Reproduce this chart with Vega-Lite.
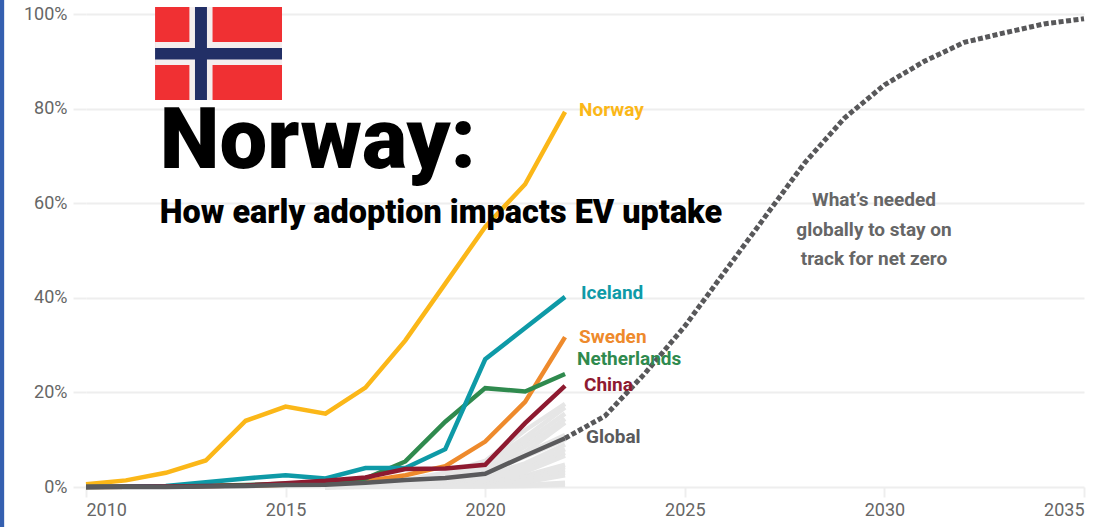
{
  "$schema": "https://vega.github.io/schema/vega-lite/v6.json",
  "width": 998,
  "height": 473,
  "autosize": "none",
  "padding": {"left": 86, "top": 14, "right": 23, "bottom": 40},
  "background": "white",
  "config": {
    "view": {"stroke": null},
    "axis": {
      "title": null,
      "domain": false,
      "grid": false,
      "tickColor": "#eeeeee",
      "tickWidth": 2,
      "labelColor": "#666666",
      "labelFont": "Roboto",
      "labelFontSize": 18
    }
  },
  "datasets": {
    "shares": [
      {"series":"r01","year":2016,"share":0.0},{"series":"r01","year":2018,"share":1.5},{"series":"r01","year":2019,"share":3.0},{"series":"r01","year":2020,"share":5.5},{"series":"r01","year":2021,"share":12.0},{"series":"r01","year":2022,"share":17.6},
      {"series":"r02","year":2016,"share":0.0},{"series":"r02","year":2018,"share":1.2},{"series":"r02","year":2019,"share":2.6},{"series":"r02","year":2020,"share":5.0},{"series":"r02","year":2021,"share":10.5},{"series":"r02","year":2022,"share":16.8},
      {"series":"r03","year":2016,"share":0.0},{"series":"r03","year":2018,"share":1.0},{"series":"r03","year":2019,"share":2.2},{"series":"r03","year":2020,"share":4.6},{"series":"r03","year":2021,"share":9.5},{"series":"r03","year":2022,"share":15.5},
      {"series":"r04","year":2016,"share":0.0},{"series":"r04","year":2018,"share":0.9},{"series":"r04","year":2019,"share":2.0},{"series":"r04","year":2020,"share":4.0},{"series":"r04","year":2021,"share":8.5},{"series":"r04","year":2022,"share":14.4},
      {"series":"r05","year":2016,"share":0.0},{"series":"r05","year":2018,"share":0.8},{"series":"r05","year":2019,"share":1.7},{"series":"r05","year":2020,"share":3.6},{"series":"r05","year":2021,"share":7.4},{"series":"r05","year":2022,"share":13.6},
      {"series":"r06","year":2016,"share":0.0},{"series":"r06","year":2018,"share":0.7},{"series":"r06","year":2019,"share":1.5},{"series":"r06","year":2020,"share":3.2},{"series":"r06","year":2021,"share":7.0},{"series":"r06","year":2022,"share":11.0},
      {"series":"r07","year":2016,"share":0.0},{"series":"r07","year":2018,"share":0.6},{"series":"r07","year":2019,"share":1.3},{"series":"r07","year":2020,"share":3.0},{"series":"r07","year":2021,"share":6.4},{"series":"r07","year":2022,"share":10.0},
      {"series":"r08","year":2016,"share":0.0},{"series":"r08","year":2018,"share":0.5},{"series":"r08","year":2019,"share":1.1},{"series":"r08","year":2020,"share":2.4},{"series":"r08","year":2021,"share":5.0},{"series":"r08","year":2022,"share":9.0},
      {"series":"r09","year":2016,"share":0.0},{"series":"r09","year":2018,"share":0.4},{"series":"r09","year":2019,"share":0.9},{"series":"r09","year":2020,"share":2.0},{"series":"r09","year":2021,"share":4.4},{"series":"r09","year":2022,"share":8.0},
      {"series":"r10","year":2016,"share":0.0},{"series":"r10","year":2018,"share":0.4},{"series":"r10","year":2019,"share":0.8},{"series":"r10","year":2020,"share":1.7},{"series":"r10","year":2021,"share":3.8},{"series":"r10","year":2022,"share":7.2},
      {"series":"r11","year":2016,"share":0.0},{"series":"r11","year":2018,"share":0.3},{"series":"r11","year":2019,"share":0.6},{"series":"r11","year":2020,"share":1.4},{"series":"r11","year":2021,"share":3.2},{"series":"r11","year":2022,"share":6.6},
      {"series":"r12","year":2016,"share":0.0},{"series":"r12","year":2018,"share":0.3},{"series":"r12","year":2019,"share":0.5},{"series":"r12","year":2020,"share":1.0},{"series":"r12","year":2021,"share":2.4},{"series":"r12","year":2022,"share":4.7},
      {"series":"r13","year":2016,"share":0.0},{"series":"r13","year":2018,"share":0.2},{"series":"r13","year":2019,"share":0.4},{"series":"r13","year":2020,"share":0.9},{"series":"r13","year":2021,"share":2.1},{"series":"r13","year":2022,"share":4.2},
      {"series":"r14","year":2016,"share":0.0},{"series":"r14","year":2018,"share":0.2},{"series":"r14","year":2019,"share":0.3},{"series":"r14","year":2020,"share":0.7},{"series":"r14","year":2021,"share":1.8},{"series":"r14","year":2022,"share":3.6},
      {"series":"r15","year":2016,"share":0.0},{"series":"r15","year":2018,"share":0.1},{"series":"r15","year":2019,"share":0.3},{"series":"r15","year":2020,"share":0.5},{"series":"r15","year":2021,"share":1.5},{"series":"r15","year":2022,"share":3.0},
      {"series":"r16","year":2016,"share":0.0},{"series":"r16","year":2018,"share":0.1},{"series":"r16","year":2019,"share":0.2},{"series":"r16","year":2020,"share":0.4},{"series":"r16","year":2021,"share":1.0},{"series":"r16","year":2022,"share":2.5},
      {"series":"r17","year":2016,"share":0.0},{"series":"r17","year":2018,"share":0.1},{"series":"r17","year":2019,"share":0.1},{"series":"r17","year":2020,"share":0.2},{"series":"r17","year":2021,"share":0.4},{"series":"r17","year":2022,"share":0.9},
      {"series":"r18","year":2016,"share":0.0},{"series":"r18","year":2018,"share":0.0},{"series":"r18","year":2019,"share":0.1},{"series":"r18","year":2020,"share":0.1},{"series":"r18","year":2021,"share":0.2},{"series":"r18","year":2022,"share":0.5}
    ],
    "highlighted": [
      {"series":"Norway","year":2010,"share":0.6},{"series":"Norway","year":2011,"share":1.4},{"series":"Norway","year":2012,"share":3.0},{"series":"Norway","year":2013,"share":5.6},{"series":"Norway","year":2014,"share":14.0},{"series":"Norway","year":2015,"share":17.0},{"series":"Norway","year":2016,"share":15.5},{"series":"Norway","year":2017,"share":21.0},{"series":"Norway","year":2018,"share":31.0},{"series":"Norway","year":2019,"share":43.0},{"series":"Norway","year":2020,"share":55.0},{"series":"Norway","year":2021,"share":64.0},{"series":"Norway","year":2022,"share":79.3},
      {"series":"Sweden","year":2010,"share":0.0},{"series":"Sweden","year":2012,"share":0.1},{"series":"Sweden","year":2014,"share":0.3},{"series":"Sweden","year":2015,"share":0.5},{"series":"Sweden","year":2016,"share":0.7},{"series":"Sweden","year":2017,"share":1.2},{"series":"Sweden","year":2018,"share":2.5},{"series":"Sweden","year":2019,"share":4.4},{"series":"Sweden","year":2020,"share":9.6},{"series":"Sweden","year":2021,"share":18.0},{"series":"Sweden","year":2022,"share":31.7},
      {"series":"Netherlands","year":2010,"share":0.0},{"series":"Netherlands","year":2012,"share":0.1},{"series":"Netherlands","year":2014,"share":0.4},{"series":"Netherlands","year":2015,"share":0.7},{"series":"Netherlands","year":2016,"share":0.8},{"series":"Netherlands","year":2017,"share":1.8},{"series":"Netherlands","year":2018,"share":5.4},{"series":"Netherlands","year":2019,"share":13.8},{"series":"Netherlands","year":2020,"share":20.9},{"series":"Netherlands","year":2021,"share":20.2},{"series":"Netherlands","year":2022,"share":23.9},
      {"series":"Iceland","year":2010,"share":0.0},{"series":"Iceland","year":2012,"share":0.2},{"series":"Iceland","year":2013,"share":1.0},{"series":"Iceland","year":2014,"share":1.8},{"series":"Iceland","year":2015,"share":2.5},{"series":"Iceland","year":2016,"share":1.8},{"series":"Iceland","year":2017,"share":4.0},{"series":"Iceland","year":2018,"share":4.0},{"series":"Iceland","year":2019,"share":8.0},{"series":"Iceland","year":2020,"share":27.0},{"series":"Iceland","year":2021,"share":33.6},{"series":"Iceland","year":2022,"share":40.2},
      {"series":"China","year":2010,"share":0.0},{"series":"China","year":2012,"share":0.1},{"series":"China","year":2014,"share":0.3},{"series":"China","year":2015,"share":0.8},{"series":"China","year":2016,"share":1.3},{"series":"China","year":2017,"share":2.0},{"series":"China","year":2018,"share":3.8},{"series":"China","year":2019,"share":3.9},{"series":"China","year":2020,"share":4.7},{"series":"China","year":2021,"share":13.5},{"series":"China","year":2022,"share":21.4},
      {"series":"Global","year":2010,"share":0.0},{"series":"Global","year":2012,"share":0.0},{"series":"Global","year":2013,"share":0.1},{"series":"Global","year":2014,"share":0.2},{"series":"Global","year":2015,"share":0.4},{"series":"Global","year":2016,"share":0.5},{"series":"Global","year":2017,"share":0.9},{"series":"Global","year":2018,"share":1.5},{"series":"Global","year":2019,"share":1.9},{"series":"Global","year":2020,"share":2.8},{"series":"Global","year":2021,"share":6.6},{"series":"Global","year":2022,"share":10.3}
    ],
    "needed": [
      {"year":2022,"share":10.3},{"year":2023,"share":15.0},{"year":2024,"share":24.0},{"year":2025,"share":34.0},{"year":2026,"share":45.5},{"year":2027,"share":57.0},{"year":2028,"share":68.5},{"year":2029,"share":78.0},{"year":2030,"share":85.0},{"year":2031,"share":90.0},{"year":2032,"share":94.0},{"year":2033,"share":96.0},{"year":2034,"share":97.9},{"year":2035,"share":99.0}
    ],
    "flagParts": [
      {"part":"field","from_year":2011.73,"to_year":2014.91,"low":81.8,"high":101.5},
      {"part":"border","from_year":2012.59,"to_year":2013.17,"low":81.8,"high":101.5},
      {"part":"border","from_year":2011.73,"to_year":2014.91,"low":89.2,"high":94.1},
      {"part":"cross","from_year":2012.73,"to_year":2013.03,"low":81.8,"high":101.5},
      {"part":"cross","from_year":2011.73,"to_year":2014.91,"low":90.4,"high":92.8}
    ],
    "seriesLabels": [
      {"series":"Norway","year":2022.35,"share":79.7},
      {"series":"Iceland","year":2022.40,"share":41.0},
      {"series":"Sweden","year":2022.35,"share":31.7},
      {"series":"Netherlands","year":2022.30,"share":27.1},
      {"series":"China","year":2022.475,"share":21.6},
      {"series":"Global","year":2022.525,"share":10.6}
    ],
    "note": [
      {"line":"What’s needed","year":2029.74,"share":60.7},
      {"line":"globally to stay on","year":2029.74,"share":54.3},
      {"line":"track for net zero","year":2029.74,"share":48.1}
    ]
  },
  "layer": [
    {
      "description": "Horizontal gridlines and both axes",
      "data": {"name": "needed"},
      "mark": {"type": "point", "opacity": 0},
      "encoding": {
        "x": {
          "field": "year", "type": "quantitative",
          "scale": {"domain": [2010, 2035], "nice": false, "zero": false},
          "axis": {"values": [2010, 2015, 2020, 2025, 2030, 2035], "format": "d", "tickSize": 10, "labelPadding": 4}
        },
        "y": {
          "field": "share", "type": "quantitative",
          "scale": {"domain": [0, 100], "nice": false},
          "axis": {"values": [0, 20, 40, 60, 80, 100], "labelExpr": "datum.value + '%'", "tickSize": 13, "labelPadding": 6, "grid": true, "gridColor": "#eeeeee", "gridWidth": 2}
        }
      }
    },
    {
      "description": "Other markets, in pale grey behind the named series",
      "data": {"name": "shares"},
      "mark": {"type": "line", "stroke": "#e6e6e6", "strokeWidth": 4.5, "strokeJoin": "miter", "strokeCap": "butt"},
      "encoding": {
        "x": {"field": "year", "type": "quantitative"},
        "y": {"field": "share", "type": "quantitative"},
        "detail": {"field": "series"}
      }
    },
    {
      "description": "Named markets",
      "data": {"name": "highlighted"},
      "mark": {"type": "line", "strokeWidth": 4.5, "strokeJoin": "miter"},
      "encoding": {
        "x": {"field": "year", "type": "quantitative"},
        "y": {"field": "share", "type": "quantitative"},
        "color": {
          "field": "series", "type": "nominal", "legend": null, "sort": null,
          "scale": {
            "domain": ["Norway", "Sweden", "Netherlands", "Iceland", "China", "Global"],
            "range": ["#fbb718", "#ee8a2c", "#2f8a4e", "#0e9aa7", "#8e1a30", "#5a5a5c"]
          }
        }
      }
    },
    {
      "description": "Path required for net zero",
      "data": {"name": "needed"},
      "mark": {"type": "line", "stroke": "#58585a", "strokeWidth": 5, "strokeDash": [5, 2.5]},
      "encoding": {
        "x": {"field": "year", "type": "quantitative"},
        "y": {"field": "share", "type": "quantitative"}
      }
    },
    {
      "description": "End-of-line series names",
      "data": {"name": "seriesLabels"},
      "mark": {"type": "text", "align": "left", "baseline": "middle", "font": "Roboto", "fontWeight": "bold", "fontSize": 19},
      "encoding": {
        "x": {"field": "year", "type": "quantitative"},
        "y": {"field": "share", "type": "quantitative"},
        "text": {"field": "series"},
        "color": {"field": "series", "type": "nominal", "legend": null}
      }
    },
    {
      "description": "Note beside the dotted path",
      "data": {"name": "note"},
      "mark": {"type": "text", "align": "center", "baseline": "middle", "font": "Roboto", "fontWeight": "bold", "fontSize": 19, "fill": "#666666"},
      "encoding": {
        "x": {"field": "year", "type": "quantitative"},
        "y": {"field": "share", "type": "quantitative"},
        "text": {"field": "line"}
      }
    },
    {
      "description": "Norwegian flag",
      "data": {"name": "flagParts"},
      "mark": {"type": "rect"},
      "encoding": {
        "x": {"field": "from_year", "type": "quantitative"},
        "x2": {"field": "to_year"},
        "y": {"field": "low", "type": "quantitative"},
        "y2": {"field": "high"},
        "fill": {
          "field": "part", "type": "nominal", "legend": null,
          "scale": {"domain": ["field", "border", "cross"], "range": ["#f03033", "#f4eeee", "#222f66"]}
        }
      }
    },
    {
      "description": "Headline",
      "data": {"values": [{"text": "Norway:", "year": 2011.85, "share": 67.4}]},
      "mark": {"type": "text", "align": "left", "baseline": "alphabetic", "font": "Roboto", "fontWeight": 900, "fontSize": 85, "fill": "#000000"},
      "encoding": {
        "x": {"field": "year", "type": "quantitative"},
        "y": {"field": "share", "type": "quantitative"},
        "text": {"field": "text"}
      }
    },
    {
      "description": "Subhead",
      "data": {"values": [{"text": "How early adoption impacts EV uptake", "year": 2011.85, "share": 55.8}]},
      "mark": {"type": "text", "align": "left", "baseline": "alphabetic", "font": "Roboto", "fontWeight": 900, "fontSize": 32.4, "fill": "#000000"},
      "encoding": {
        "x": {"field": "year", "type": "quantitative"},
        "y": {"field": "share", "type": "quantitative"},
        "text": {"field": "text"}
      }
    },
    {
      "description": "Blue rule down the left edge",
      "data": {"values": [{"from_year": 2007.845, "to_year": 2007.95, "low": -8.5, "high": 103}]},
      "mark": {"type": "rect", "fill": "#3560b0"},
      "encoding": {
        "x": {"field": "from_year", "type": "quantitative"},
        "x2": {"field": "to_year"},
        "y": {"field": "low", "type": "quantitative"},
        "y2": {"field": "high"}
      }
    }
  ]
}
